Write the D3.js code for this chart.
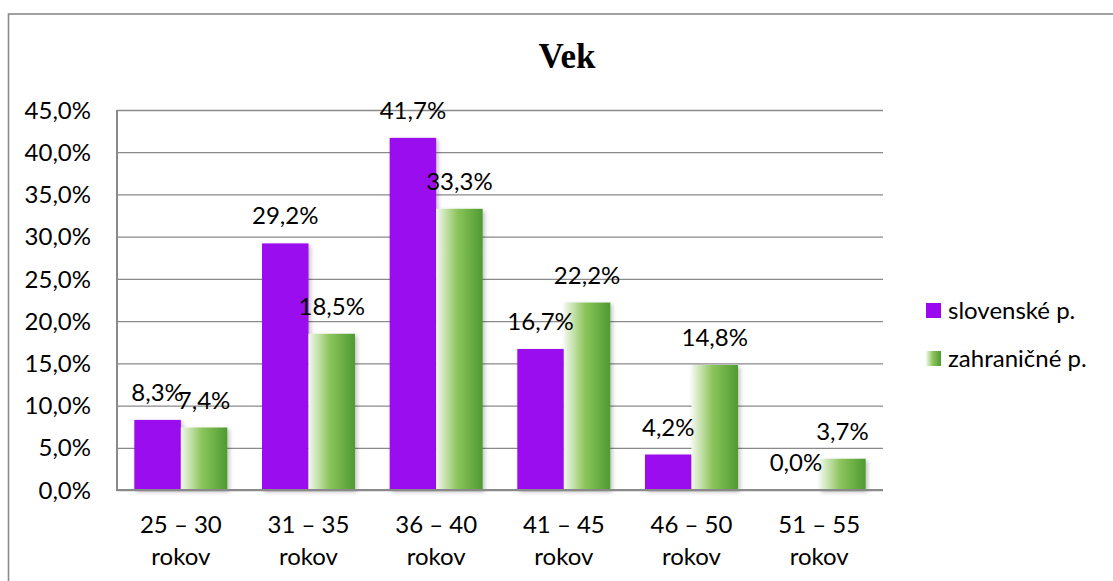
<!DOCTYPE html>
<html>
<head>
<meta charset="utf-8">
<script src="https://cdn.jsdelivr.net/npm/d3@7"></script>
<style>
  html, body { margin: 0; padding: 0; background: #fff; }
  svg { display: block; }
  text { font-family: Lato, "Open Sans", sans-serif; fill: #000; }
</style>
</head>
<body>
<svg id="chart" width="1113" height="581"></svg>
<script>
const title = "Vek";
const categories = ["25 – 30 rokov", "31 – 35 rokov", "36 – 40 rokov", "41 – 45 rokov", "46 – 50 rokov", "51 – 55 rokov"];
const seriesNames = ["slovenské p.", "zahraničné p."];
const slovenske = [8.3, 29.2, 41.7, 16.7, 4.2, 0.0];
const zahranicne = [7.4, 18.5, 33.3, 22.2, 14.8, 3.7];
const yTicks = [0, 5, 10, 15, 20, 25, 30, 35, 40, 45];

const svg = d3.select("#chart");
const W = 1113, H = 581;
const FS = "24px";
const plot = { left: 117, right: 883, top: 110, bottom: 490 };
const fmt = v => d3.format(".1f")(v).replace(".", ",") + "%";

const defs = svg.append("defs");
const grad = defs.append("linearGradient").attr("id", "greenGrad")
  .attr("x1", "0%").attr("x2", "100%").attr("y1", "0%").attr("y2", "0%");
grad.append("stop").attr("offset", "0%").attr("stop-color", "#f3f8ee");
grad.append("stop").attr("offset", "45%").attr("stop-color", "#8cc55b");
grad.append("stop").attr("offset", "100%").attr("stop-color", "#4e9a31");
const sh = defs.append("filter").attr("id", "shadow")
  .attr("x", "-20%").attr("y", "-20%").attr("width", "150%").attr("height", "150%");
sh.append("feDropShadow").attr("dx", 2).attr("dy", 2).attr("stdDeviation", 2)
  .attr("flood-color", "#000").attr("flood-opacity", 0.25);

// outer border
svg.append("rect").attr("x", 8.5).attr("y", 14).attr("width", W + 20).attr("height", H + 20)
  .attr("fill", "none").attr("stroke", "#8a8a8a").attr("stroke-width", 1.6);

// title
svg.append("text").attr("x", 567).attr("y", 68).attr("text-anchor", "middle")
  .style("font-family", "'Liberation Serif', 'Times New Roman', serif")
  .style("font-weight", "bold").style("font-size", "35px").text(title);

const x0 = d3.scaleBand().domain(categories).range([plot.left, plot.right]).padding(0);
const x1 = d3.scaleBand().domain(seriesNames).range([0, x0.bandwidth()])
  .paddingInner(0).paddingOuter(0.373);
const y = d3.scaleLinear().domain([0, 45]).range([plot.bottom, plot.top]);

// gridlines + y axis
const yAxis = svg.append("g").attr("transform", `translate(${plot.left},0)`)
  .call(d3.axisLeft(y).tickValues(yTicks).tickSize(-(plot.right - plot.left)).tickPadding(26).tickFormat(fmt));
yAxis.select(".domain").remove();
yAxis.selectAll(".tick line").attr("stroke", "#8a8a8a").attr("stroke-width", 1.3);
yAxis.selectAll(".tick text").style("font-size", FS).style("font-family", "Lato, sans-serif")
  .attr("fill", "#000").attr("dy", "0.34em");

// axis lines
svg.append("line").attr("x1", plot.left).attr("x2", plot.left).attr("y1", plot.top).attr("y2", plot.bottom)
  .attr("stroke", "#8a8a8a").attr("stroke-width", 2);

const seriesData = [slovenske, zahranicne];
const colors = ["#9a08ee", "url(#greenGrad)"];

const groups = svg.append("g").selectAll("g").data(categories).join("g")
  .attr("transform", d => `translate(${x0(d)},0)`);

seriesNames.forEach((s, si) => {
  groups.append("rect")
    .attr("x", x1(s)).attr("width", x1.bandwidth())
    .attr("y", (d, i) => y(seriesData[si][i]))
    .attr("height", (d, i) => y(0) - y(seriesData[si][i]))
    .attr("fill", colors[si])
    .attr("filter", "url(#shadow)");
});

svg.append("line").attr("x1", plot.left - 1).attr("x2", plot.right).attr("y1", plot.bottom).attr("y2", plot.bottom)
  .attr("stroke", "#8a8a8a").attr("stroke-width", 2);

// value labels
seriesNames.forEach((s, si) => {
  groups.append("text")
    .attr("x", x1(s) + x1.bandwidth() / 2)
    .attr("y", (d, i) => y(seriesData[si][i]) - 19)
    .attr("text-anchor", "middle").style("font-size", FS)
    .text((d, i) => fmt(seriesData[si][i]));
});

// x axis labels
const xAxis = svg.append("g").attr("transform", `translate(0,${plot.bottom})`)
  .call(d3.axisBottom(x0).tickSize(0).tickFormat(""));
xAxis.select(".domain").remove();
xAxis.selectAll(".tick").each(function (d) {
  const m = d.match(/^(.*)\s(\S+)$/);
  const t = d3.select(this).append("text").attr("text-anchor", "middle")
    .style("font-size", FS).attr("fill", "#000");
  t.append("tspan").attr("x", 0).attr("y", 43).text(m[1]);
  t.append("tspan").attr("x", 0).attr("y", 75).text(m[2]);
});

// legend
const legend = svg.append("g");
seriesNames.forEach((s, i) => {
  const ly = 303 + i * 48;
  legend.append("rect").attr("x", 926).attr("y", ly).attr("width", 15).attr("height", 15)
    .attr("fill", colors[i]);
  legend.append("text").attr("x", 948).attr("y", ly + 16).style("font-size", FS).text(s);
});
</script>
</body>
</html>
